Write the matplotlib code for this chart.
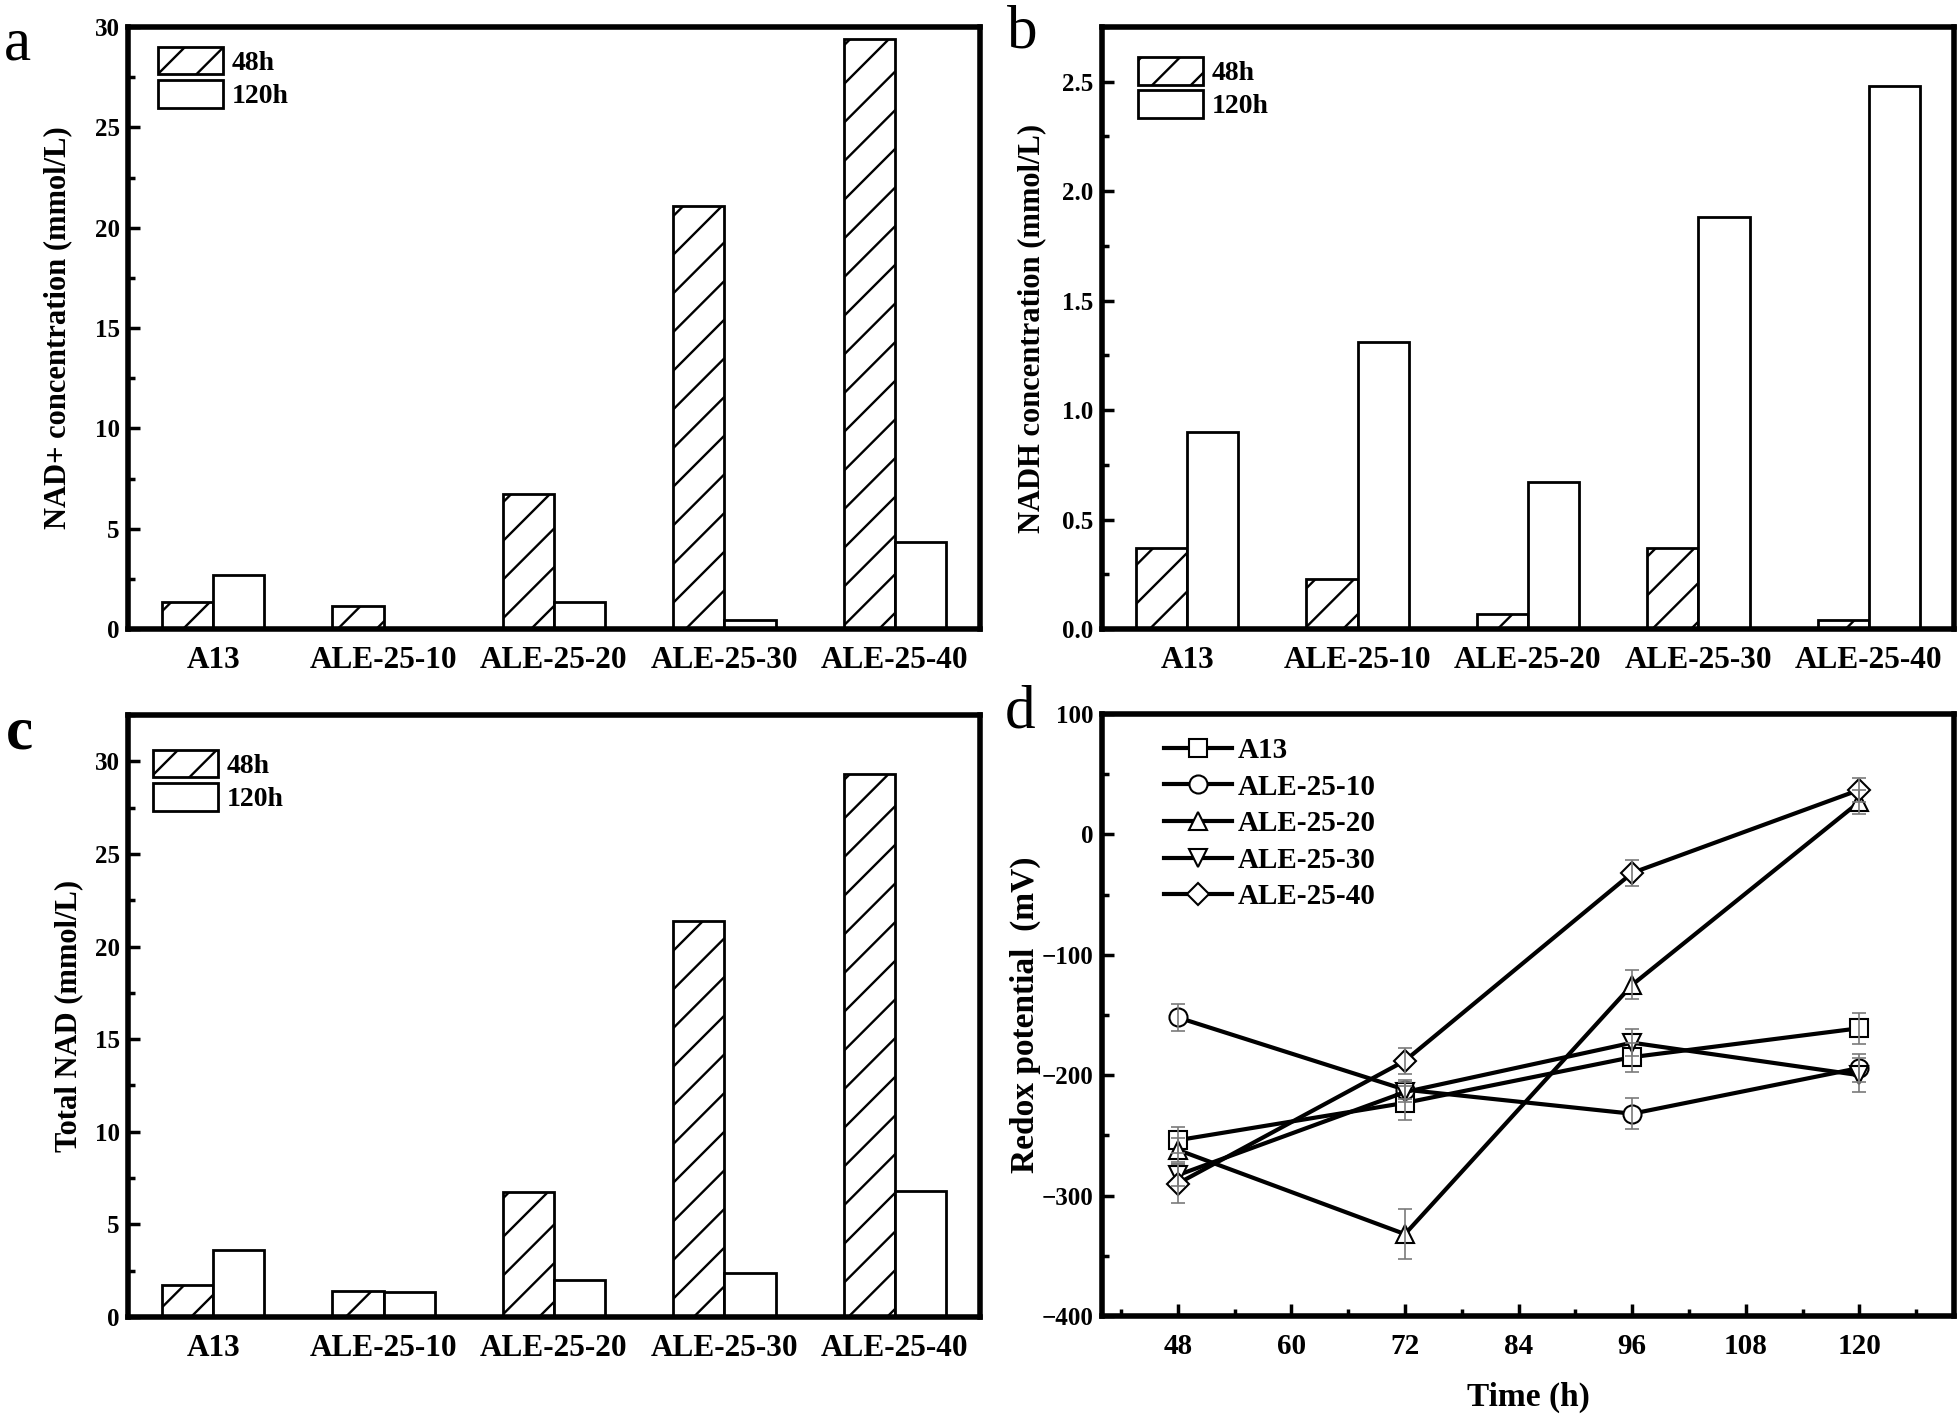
import matplotlib
matplotlib.use('Agg')
import matplotlib.pyplot as plt
from matplotlib.ticker import MultipleLocator, FormatStrFormatter
import numpy as np

# ---------------- data ----------------
strains = ['A13', 'ALE-25-10', 'ALE-25-20', 'ALE-25-30', 'ALE-25-40']
series_labels = ['48h', '120h']

nad_48 = [1.33, 1.16, 6.71, 21.1, 29.4]
nad_120 = [2.70, 0.0, 1.33, 0.44, 4.36]

nadh_48 = [0.37, 0.23, 0.068, 0.37, 0.039]
nadh_120 = [0.90, 1.31, 0.67, 1.88, 2.48]

total_48 = [1.71, 1.39, 6.76, 21.4, 29.3]
total_120 = [3.63, 1.34, 2.02, 2.37, 6.81]

time_h = [48, 72, 96, 120]
redox_a13 = [-254, -223, -185, -161]
redox_ale10 = [-152, -212, -232, -194]
redox_ale20 = [-262, -332, -125, 27]
redox_ale30 = [-283, -214, -173, -200]
redox_ale40 = [-290, -188, -32, 37]

err_a13 = [11, 14, 12, 13]
err_ale10 = [11, 8, 13, 12]
err_ale20 = [10, 21, 12, 10]
err_ale30 = [9, 8, 11, 14]
err_ale40 = [16, 11, 11, 10]

# ---------------- style ----------------
DPI = 116              # higher dpi -> sparser hatch like the reference
K = 100.0 / DPI        # sizes below are written as if dpi were 100

plt.rcParams['font.family'] = ['Liberation Serif', 'DejaVu Serif']
plt.rcParams['font.weight'] = 'bold'
plt.rcParams['axes.labelweight'] = 'bold'
plt.rcParams['hatch.linewidth'] = 1.7 * K

W, H = 1960, 1422
fig = plt.figure(figsize=(W / DPI, H / DPI), dpi=DPI)


def px_axes(left, top, right, bottom):
    return fig.add_axes([left / W, 1 - bottom / H, (right - left) / W, (bottom - top) / H])


def style_axes(ax):
    for s in ax.spines.values():
        s.set_linewidth(4 * K)
    ax.tick_params(axis='y', which='major', direction='in', length=9 * K, width=2.5 * K,
                   labelsize=18 * K, pad=6 * K, right=False)
    ax.tick_params(axis='y', which='minor', direction='in', length=5 * K, width=2.5 * K,
                   right=False)


def bar_panel(ax, v48, v120, ymax, major, minor, ylabel, lab_x, leg_xy):
    x = np.arange(len(strains))
    w = 0.3
    ax.bar(x - w / 2, v48, w, facecolor='white', edgecolor='black', linewidth=2 * K,
           hatch='/', label=series_labels[0], zorder=2)
    ax.bar(x + w / 2, v120, w, facecolor='white', edgecolor='black', linewidth=2 * K,
           label=series_labels[1], zorder=2)
    ax.set_xlim(-0.5, 4.5)
    ax.set_ylim(0, ymax)
    ax.set_xticks(x)
    ax.set_xticklabels(strains)
    ax.yaxis.set_major_locator(MultipleLocator(major))
    ax.yaxis.set_minor_locator(MultipleLocator(minor))
    style_axes(ax)
    ax.tick_params(axis='x', which='both', length=0, labelsize=22.5 * K, pad=12 * K, top=False)
    ax.set_ylabel(ylabel, fontsize=22 * K, va='center')
    ax.yaxis.set_label_coords(lab_x, 0.5)
    ax.legend(loc='upper left', bbox_to_anchor=leg_xy, frameon=False, fontsize=20 * K,
              handlelength=2.34, handleheight=1.15, handletextpad=0.32,
              labelspacing=0.14, borderpad=0, borderaxespad=0)


# panel a
ax_a = px_axes(128, 27, 980, 629)
bar_panel(ax_a, nad_48, nad_120, 30, 5, 2.5, 'NAD+ concentration (mmol/L)',
          -0.082, (0.035, 0.967))
ax_a.yaxis.set_major_formatter(FormatStrFormatter('%d'))

# panel b
ax_b = px_axes(1102, 27, 1954, 629)
bar_panel(ax_b, nadh_48, nadh_120, 2.75, 0.5, 0.25, 'NADH concentration (mmol/L)',
          -0.083, (0.042, 0.950))
ax_b.yaxis.set_major_formatter(FormatStrFormatter('%.1f'))

# panel c
ax_c = px_axes(128, 715, 980, 1317)
bar_panel(ax_c, total_48, total_120, 32.5, 5, 2.5, 'Total NAD (mmol/L)',
          -0.07, (0.029, 0.942))
ax_c.yaxis.set_major_formatter(FormatStrFormatter('%d'))

# panel d
ax_d = px_axes(1102, 714, 1954, 1316)
series = [
    ('A13', redox_a13, err_a13, 's'),
    ('ALE-25-10', redox_ale10, err_ale10, 'o'),
    ('ALE-25-20', redox_ale20, err_ale20, '^'),
    ('ALE-25-30', redox_ale30, err_ale30, 'v'),
    ('ALE-25-40', redox_ale40, err_ale40, 'D'),
]
handles = []
for name, vals, errs, mk in series:
    ms = (11 if mk == 'D' else 13) * K
    h, = ax_d.plot(time_h, vals, color='black', linewidth=3 * K, marker=mk,
                   markersize=ms, markerfacecolor='white', markeredgecolor='black',
                   markeredgewidth=1.5 * K, label=name, zorder=3)
    ax_d.errorbar(time_h, vals, yerr=errs, fmt='none', ecolor='#7a7a7a',
                  elinewidth=1.2 * K, capsize=5 * K, capthick=1.2 * K, zorder=4)
    handles.append(h)
ax_d.set_xlim(40, 130)
ax_d.set_ylim(-400, 100)
ax_d.set_xticks([48, 60, 72, 84, 96, 108, 120])
ax_d.xaxis.set_minor_locator(MultipleLocator(6))
ax_d.yaxis.set_major_locator(MultipleLocator(100))
ax_d.yaxis.set_minor_locator(MultipleLocator(50))
style_axes(ax_d)
ax_d.tick_params(axis='x', which='major', direction='in', length=9 * K, width=2.5 * K,
                 labelsize=21 * K, pad=12 * K, top=False)
ax_d.tick_params(axis='x', which='minor', direction='in', length=5 * K, width=2.5 * K,
                 top=False)
ax_d.set_ylabel('Redox potential  (mV)', fontsize=24 * K, va='center')
ax_d.yaxis.set_label_coords(-0.09, 0.5)
ax_d.set_xlabel('Time (h)', fontsize=24 * K, va='center')
ax_d.xaxis.set_label_coords(0.5, -0.1346)
ax_d.legend(handles=handles, loc='upper left', bbox_to_anchor=(0.0728, 0.962),
            frameon=False, fontsize=21 * K, handlelength=2.33, handletextpad=0.2,
            labelspacing=0.33, borderpad=0, borderaxespad=0, numpoints=1)

# panel letters
for letter, x, y, wt in [('a', 17, 59, 'normal'), ('b', 1022, 48, 'normal'),
                          ('c', 19, 748, 'bold'), ('d', 1020, 728, 'normal')]:
    fig.text(x / W, 1 - y / H, letter, fontsize=44 * K, fontweight=wt,
             ha='center', va='baseline', family='Liberation Serif')

fig.savefig('out.png', dpi=DPI)
